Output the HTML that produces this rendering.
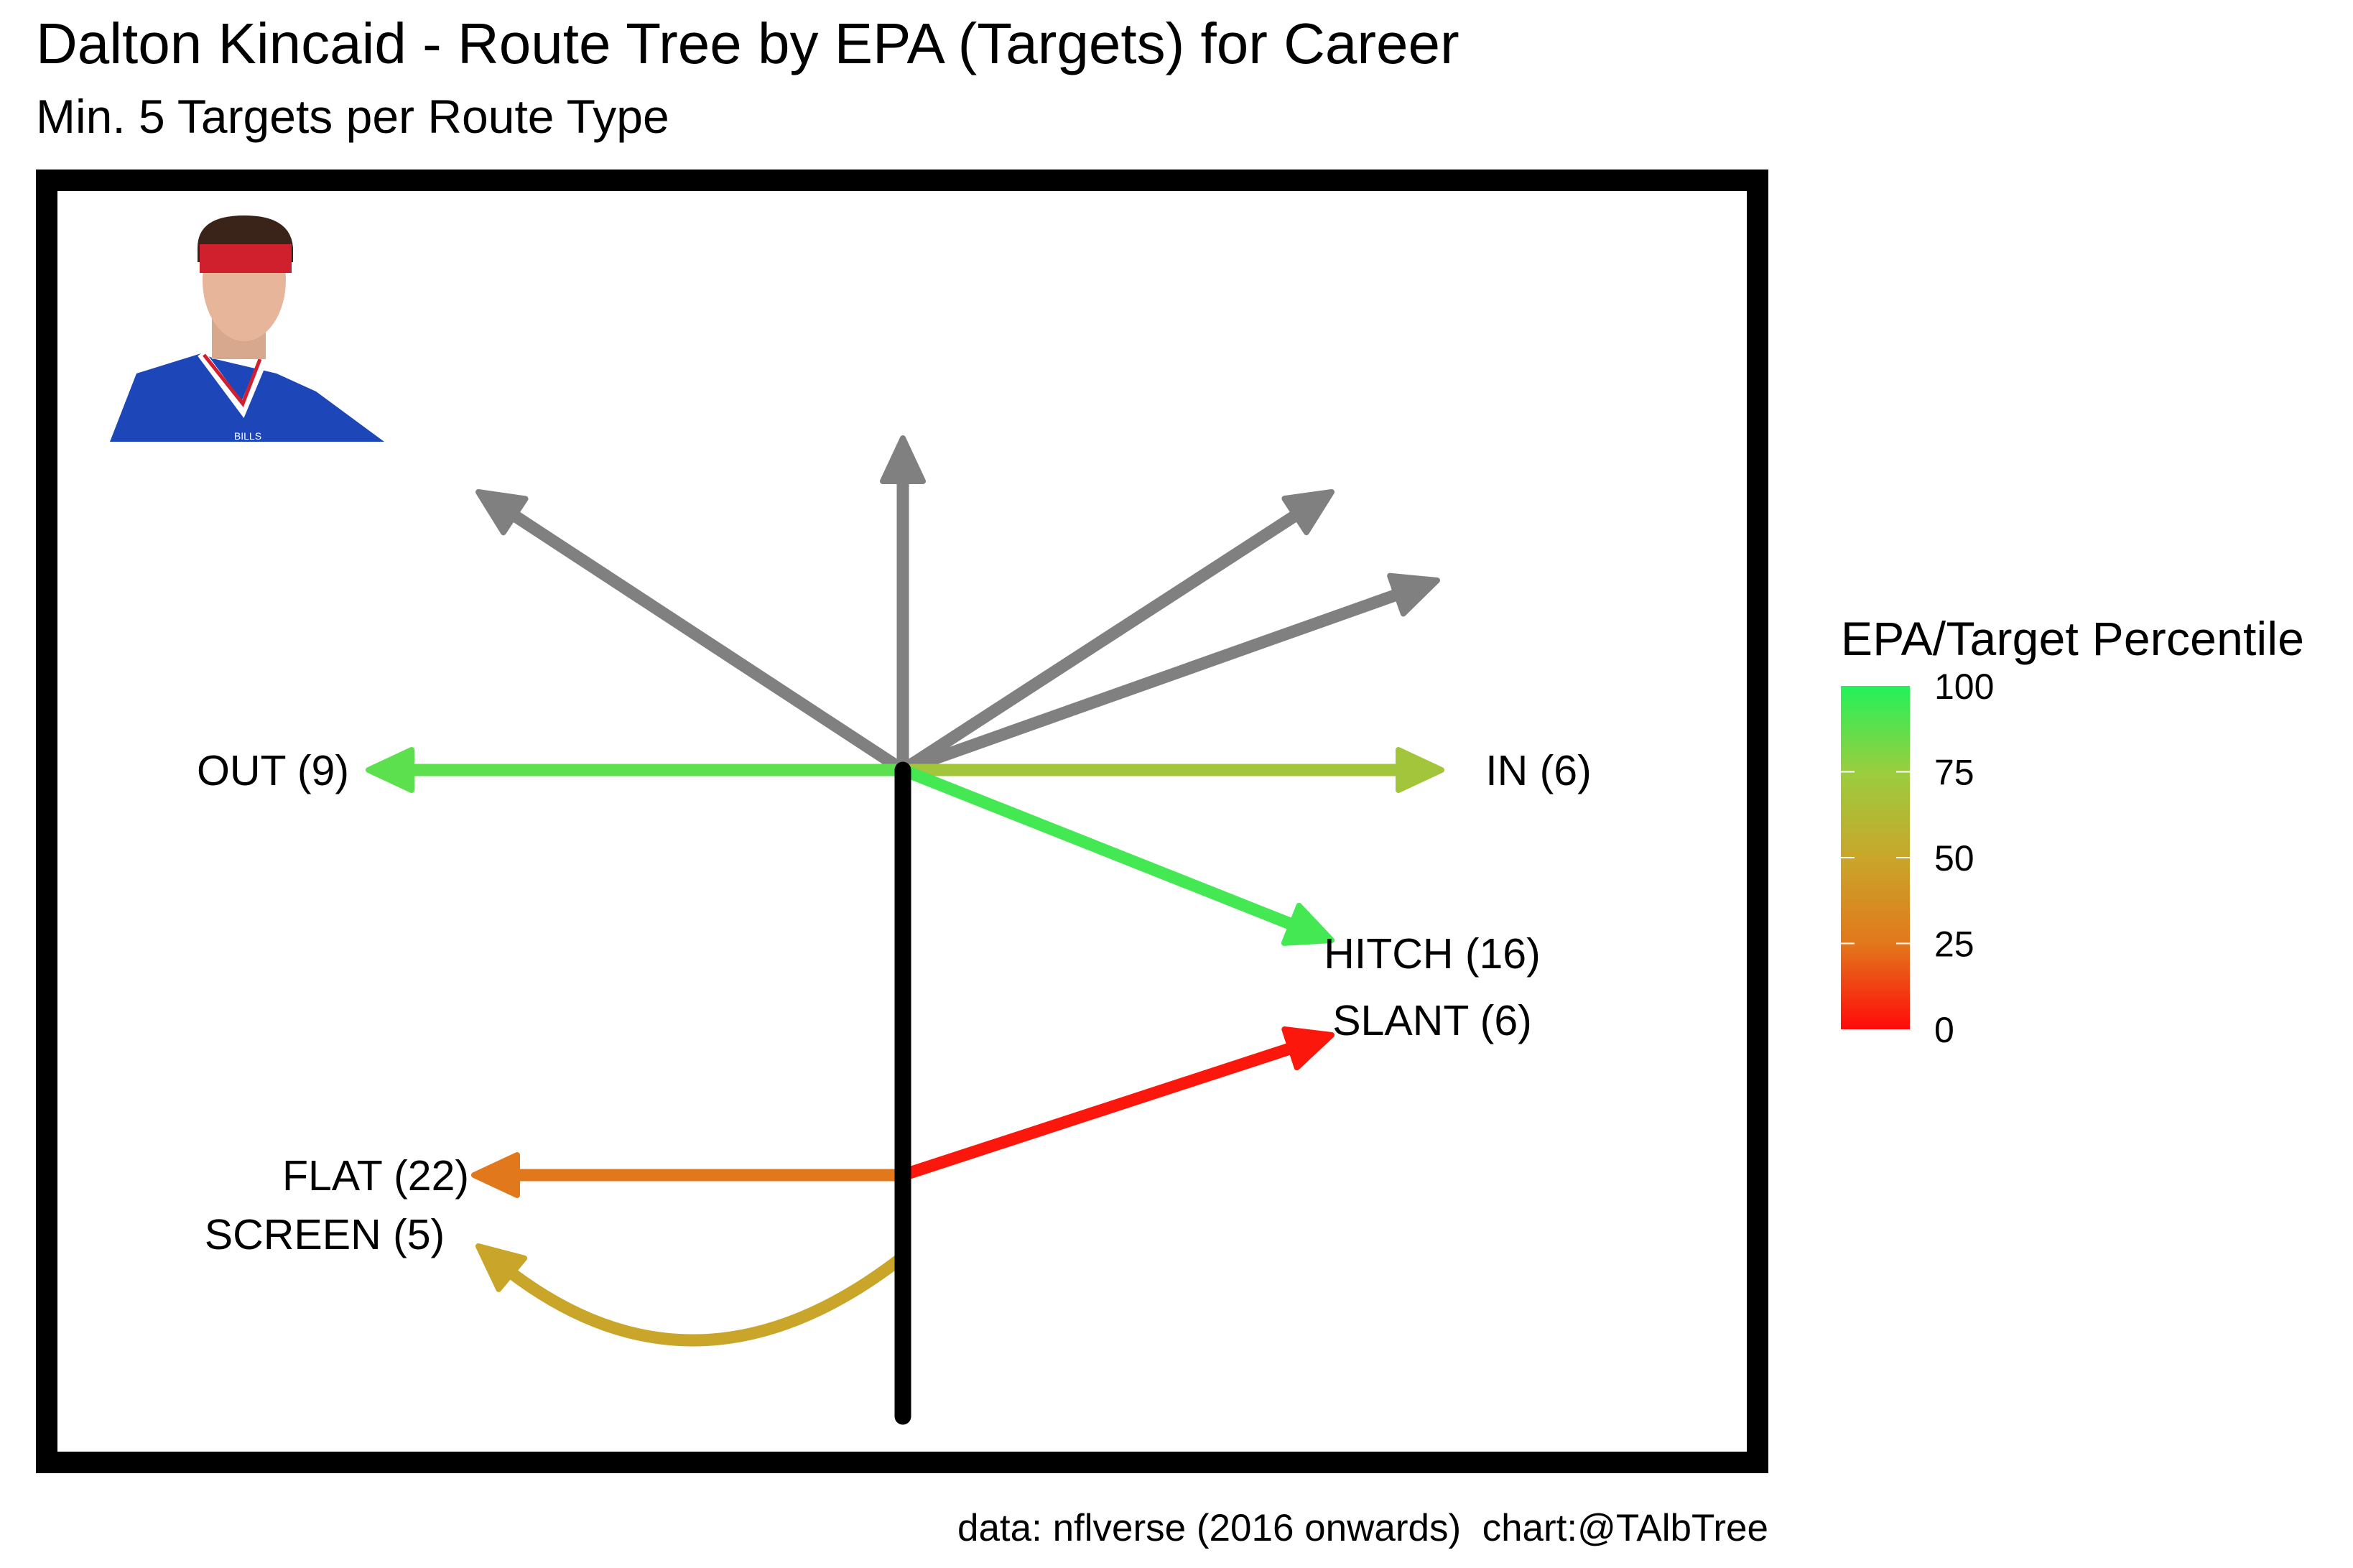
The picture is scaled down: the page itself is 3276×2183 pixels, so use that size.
<!DOCTYPE html>
<html><head><meta charset="utf-8"><style>
html,body{margin:0;padding:0;background:#fff;}
svg{display:block;font-family:"Liberation Sans",Arial,sans-serif;}
</style></head><body>
<svg id="chart" width="3276" height="2183" viewBox="0 0 3276 2183" xmlns="http://www.w3.org/2000/svg">
<rect width="3276" height="2183" fill="#fff"/>
<text x="50" y="88" font-size="80" fill="#000">Dalton Kincaid - Route Tree by EPA (Targets) for Career</text>
<text x="50" y="185" font-size="66" fill="#000">Min. 5 Targets per Route Type</text>
<rect x="65" y="251" width="2382" height="1785" fill="none" stroke="#000" stroke-width="30"/>
<g>
<path d="M153 615 L190 520 L280 492 L300 500 L385 520 L440 545 L535 615 Z" fill="#1d47b8"/>
<path d="M280 492 L338 570 L368 498" fill="none" stroke="#fff" stroke-width="12"/>
<path d="M284 494 L338 562 L362 500" fill="none" stroke="#d21f2f" stroke-width="5"/>
<rect x="295" y="400" width="75" height="100" fill="#d8a88e"/>
<ellipse cx="340" cy="390" rx="58" ry="85" fill="#e6b59a"/>
<path d="M275 345 Q275 300 340 300 Q405 300 408 345 L408 365 L275 365 Z" fill="#3a2419"/>
<rect x="278" y="340" width="128" height="40" fill="#d0202e"/>
<text x="345" y="612" font-size="14" fill="#fff" text-anchor="middle">BILLS</text>
</g>
<g id="routes"></g>
<g id="labels"></g>
<defs>
<linearGradient id="lg" x1="0" y1="1" x2="0" y2="0">
<stop offset="0" stop-color="#ff0a0a"/><stop offset="0.25" stop-color="#e2781c"/><stop offset="0.5" stop-color="#c9a62a"/><stop offset="0.75" stop-color="#9acd3f"/><stop offset="1" stop-color="#22f25a"/>
</linearGradient>
</defs>
<text x="2563" y="912" font-size="66" fill="#000" textLength="645">EPA/Target Percentile</text>
<rect x="2563" y="955" width="96" height="478" fill="url(#lg)"/>
<g id="legend"></g>
<text x="2462" y="2145" font-size="53" fill="#000" text-anchor="end" style="white-space:pre">data: nflverse (2016 onwards)  chart:@TAlbTree</text>
</svg>
<script>
// route data (field units relative to snap point)
const routeNames = ["POST","GO","CORNER","DEEP-IN","IN","OUT","HITCH","SLANT","FLAT","SCREEN"];
const routeTargets = [null,null,null,null,6,9,16,6,22,5];
const routePercentiles = [null,null,null,null,70,88,93,3,25,50];
const routeStartX = [0,0,0,0,0,0,0,0,0,0];
const routeStartY = [0,0,0,0,0,0,0,-18.8,-18.8,-22.6];
const routeEndX = [-19.7,0,19.9,24.8,25,-24.8,19.9,19.9,-19.9,-19.7];
const routeEndY = [12.9,15.4,12.9,8.8,0,0,-7.9,-12.3,-18.8,-22.1];
const legendTicks = [0,25,50,75,100];
const stemBottomY = -30;

const NS="http://www.w3.org/2000/svg";
const ox=1257, oy=1072, unit=30;
const X=v=>ox+v*unit, Y=v=>oy-v*unit;
const stops=[[0,[255,10,10]],[25,[226,120,28]],[50,[201,166,42]],[75,[154,205,63]],[100,[34,242,90]]];
function color(p){
  if(p==null) return "#808080";
  for(let i=0;i<stops.length-1;i++){
    const a=stops[i],b=stops[i+1];
    if(p<=b[0]){const t=(p-a[0])/(b[0]-a[0]);return "rgb("+a[1].map((c,j)=>Math.round(c+(b[1][j]-c)*t)).join(",")+")";}
  }
  return "rgb(34,242,90)";
}
const g=document.getElementById("routes");
const stem=document.createElementNS(NS,"line");
stem.setAttribute("x1",X(0));stem.setAttribute("y1",Y(0));stem.setAttribute("x2",X(0));stem.setAttribute("y2",Y(stemBottomY));
stem.setAttribute("stroke","#000");stem.setAttribute("stroke-width","23");stem.setAttribute("stroke-linecap","round");


function arrowHead(x,y,ang,col,name){
  const L=60,W=28;
  const bx=x-L*Math.cos(ang), by=y-L*Math.sin(ang);
  const px=-Math.sin(ang)*W, py=Math.cos(ang)*W;
  const p=document.createElementNS(NS,"polygon");
  p.setAttribute("points",`${x},${y} ${bx+px},${by+py} ${bx-px},${by-py}`);
  p.setAttribute("fill",col);p.setAttribute("stroke",col);p.setAttribute("stroke-width","8");p.setAttribute("stroke-linejoin","round");
  
  
  g.appendChild(p);
}
routeNames.forEach((n,i)=>{
  const col=color(routePercentiles[i]);
  const x1=X(routeStartX[i]),y1=Y(routeStartY[i]),x2=X(routeEndX[i]),y2=Y(routeEndY[i]);
  const path=document.createElementNS(NS,"path");
  let ang;
  if(n==="SCREEN"){
    const cx=(x1+x2)/2, cy=Math.max(y1,y2)+230;
    const ang0=Math.atan2(y2-cy,x2-cx);
    path.setAttribute("d",`M${x1},${y1} Q${cx},${cy} ${x2-30*Math.cos(ang0)},${y2-30*Math.sin(ang0)}`);
    ang=ang0;
  } else {
    ang=Math.atan2(y2-y1,x2-x1);
    path.setAttribute("d",`M${x1},${y1} L${x2-40*Math.cos(ang)},${y2-40*Math.sin(ang)}`);
  }
  path.setAttribute("fill","none");path.setAttribute("stroke",col);path.setAttribute("stroke-width","17");
  
  
  g.appendChild(path);
  arrowHead(x2,y2,ang,col,'route-'+n.toLowerCase());
});
g.appendChild(stem);
// labels
const lg=document.getElementById("labels");
const labelOffX={OUT:-133,IN:135,HITCH:140,SLANT:140,FLAT:-137,SCREEN:-214};
const labelOffY={OUT:0,IN:0,HITCH:18,SLANT:-21,FLAT:0,SCREEN:-17};
routeNames.forEach((n,i)=>{
  if(routeTargets[i]==null) return;
  const t=document.createElementNS(NS,"text");
  t.setAttribute("x",X(routeEndX[i])+labelOffX[n]);
  t.setAttribute("y",Y(routeEndY[i])+labelOffY[n]+21);
  t.setAttribute("font-size","59");t.setAttribute("text-anchor","middle");
  t.textContent=n+" ("+routeTargets[i]+")";
  
  
  lg.appendChild(t);
});
// legend ticks
const leg=document.getElementById("legend");
legendTicks.forEach(v=>{
  const y=1433-v/100*478;
  if(v>0&&v<100){
    [[2563,2582],[2640,2659]].forEach(([a,b])=>{
      const l=document.createElementNS(NS,"line");
      l.setAttribute("x1",a);l.setAttribute("x2",b);l.setAttribute("y1",y);l.setAttribute("y2",y);
      l.setAttribute("stroke","#fff");l.setAttribute("stroke-width","2");
      
      
      leg.appendChild(l);
    });
  }
  const t=document.createElementNS(NS,"text");
  t.setAttribute("x",2693);t.setAttribute("y",y+18);t.setAttribute("font-size","50");
  t.textContent=v;
  
  
  leg.appendChild(t);
});
</script>
</body></html>
